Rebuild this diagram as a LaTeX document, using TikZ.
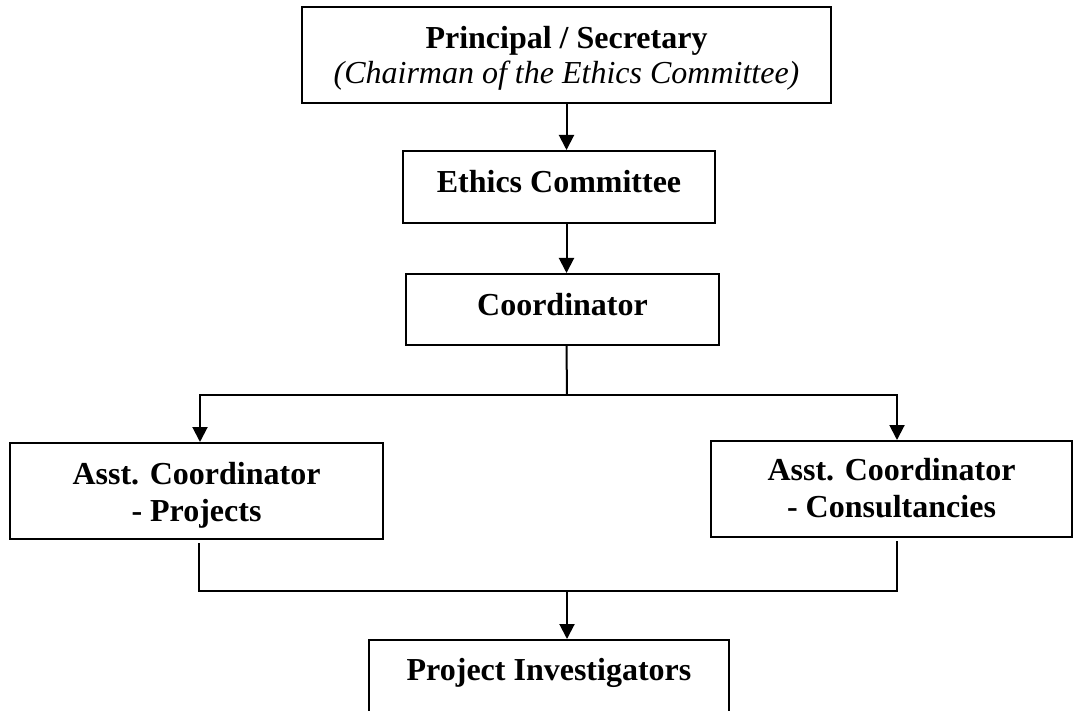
\documentclass[tikz,border=0pt]{standalone}
\usepackage{fontspec}
\setmainfont{Liberation Serif}
\usetikzlibrary{arrows.meta}
\tikzset{
  orgbox/.style={draw=black, line width=2pt, inner sep=0pt, align=center,
    font=\fontsize{32}{36.5}\selectfont\bfseries},
  conn/.style={draw=black, line width=2pt},
  arr/.style={conn, -{Triangle[width=15pt,length=15pt]}}
}
\begin{document}
\begin{tikzpicture}[x=1pt,y=-1pt]
\useasboundingbox (0,0) rectangle (1073,711);
\fill[white] (0,0) rectangle (1073,711);
\node[orgbox, minimum width=529pt, minimum height=96pt, text height=62.6pt, text depth=6pt] (P) at (566.5,55)
  {Principal / Secretary\\[-1.5pt] \mdseries\itshape (Chairman of the Ethics Committee)};
\node[orgbox, minimum width=312pt, minimum height=72pt, text height=22pt, text depth=10.6pt] (E) at (559,187) {Ethics Committee};
\node[orgbox, minimum width=313pt, minimum height=71pt, text height=22pt, text depth=11pt] (C) at (562.5,309.5) {Coordinator};
\node[orgbox, minimum width=373pt, minimum height=96pt, text height=67.4pt, text depth=6pt] (A1) at (196.5,491) {Asst. Coordinator\\[1pt]- Projects};
\node[orgbox, minimum width=361pt, minimum height=96pt, text height=62.6pt, text depth=6pt] (A2) at (891.5,489) {Asst. Coordinator\\- Consultancies};
\node[orgbox, minimum width=360pt, minimum height=90pt, text height=22pt, text depth=32pt] (PI) at (549,685) {Project Investigators};

\coordinate (bM) at (567,395);
\coordinate (bL) at (200,395);
\coordinate (bR) at (897,395);
\coordinate (mM) at (567,591);
\coordinate (mL) at (199,591);
\coordinate (mR) at (897,591);

\draw[arr] (P.south) -- (P.south |- E.north);
\draw[arr] (P.south |- E.south) -- (P.south |- C.north);
\draw[conn] (P.south |- C.south) -- (bM);
\draw[arr] (bM) -- (bL) -- (bL |- A1.north);
\draw[arr] (bM) -- (bR) -- (bR |- A2.north);
\draw[conn] ([yshift=-3pt]A1.south -| mL) -- (mL) -- (mR) -- ([yshift=-3pt]A2.south -| mR);
\draw[arr] (mM) -- (mM |- PI.north);
\end{tikzpicture}
\end{document}
